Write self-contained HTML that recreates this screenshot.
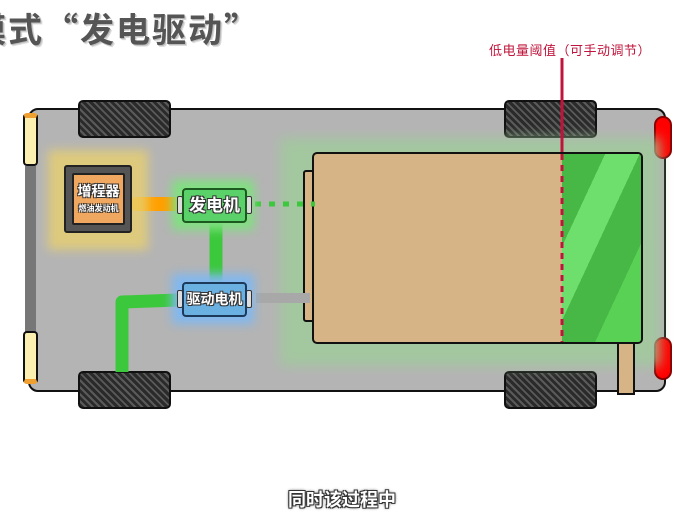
<!DOCTYPE html>
<html><head><meta charset="utf-8"><style>
*{margin:0;padding:0;box-sizing:border-box}
body{width:692px;height:519px;background:#fff;position:relative;overflow:hidden;font-family:"Liberation Sans","Noto Sans CJK SC",sans-serif}
.a{position:absolute}
.wheel{position:absolute;width:93px;height:38px;background:repeating-linear-gradient(45deg,#2a2a2a 0 3px,#5a5a5a 3px 5px);border:2px solid #111;border-radius:5px}
.cap{position:absolute;width:6px;height:18px;background:#ddd;border:1px solid #333;border-radius:2px}
.t{color:#fff;font-weight:bold;text-shadow:-1px -1px 0 #333,1px -1px 0 #333,-1px 1px 0 #333,1px 1px 0 #333;white-space:nowrap}
</style></head><body>
<div class="a" style="left:-28px;top:6px;font-family:'Noto Sans CJK SC',sans-serif;font-size:34px;letter-spacing:2px;line-height:44px;font-weight:bold;color:#555;white-space:nowrap;text-shadow:-1px -1px 0 #fff,1px 1px 0 #bbb,2px 2px 0 #ddd;">模式“发电驱动”</div>
<div class="a" style="left:489px;top:40px;font-size:13px;letter-spacing:0.5px;color:#c0143c;white-space:nowrap">低电量阈值（可手动调节）</div>

<div class="a" style="left:28px;top:108px;width:638px;height:284px;background:#b4b4b4;border:2px solid #111;border-radius:10px"></div>
<div class="a" style="left:25px;top:166px;width:11px;height:166px;background:#777"></div>
<div class="a" style="left:23px;top:113px;width:15px;height:53px;background:#fbf0b0;border:2px solid #111;border-radius:4px;border-top:5px solid #f0a030"></div>
<div class="a" style="left:23px;top:331px;width:15px;height:53px;background:#fbf0b0;border:2px solid #111;border-radius:4px;border-bottom:5px solid #f0a030"></div>
<div class="a" style="left:654px;top:116px;width:18px;height:43px;background:#f00;border:2px solid #800;border-radius:9px"></div>
<div class="a" style="left:654px;top:337px;width:18px;height:43px;background:#f00;border:2px solid #800;border-radius:9px"></div>

<div class="wheel" style="left:78px;top:100px"></div>
<div class="wheel" style="left:78px;top:371px"></div>
<div class="wheel" style="left:504px;top:100px"></div>
<div class="wheel" style="left:504px;top:371px"></div>

<div class="a" style="left:280px;top:138px;width:380px;height:228px;background:#9fcc9a;filter:blur(6px);opacity:.8"></div>
<div class="a" style="left:617px;top:340px;width:18px;height:55px;background:#d6b486;border:2px solid #111"></div>
<div class="a" style="left:303px;top:170px;width:14px;height:152px;background:#d6b486;border:2px solid #111;border-radius:3px"></div>
<div class="a" style="left:312px;top:152px;width:331px;height:192px;background:#d6b486;border:2px solid #111;border-radius:5px;overflow:hidden">
 <div class="a" style="left:248px;top:0;width:83px;height:192px;background:#47b845"></div>
 <div class="a" style="left:248px;top:0;width:83px;height:192px;background:linear-gradient(115deg,transparent 25%,#6ede6c 25% 45%,transparent 45% 70%,#58d154 70%)"></div>
</div>
<svg class="a" style="left:0;top:0" width="692" height="519">
 <line x1="562" y1="58" x2="562" y2="152" stroke="#c0143c" stroke-width="3"/>
 <line x1="562" y1="154" x2="562" y2="342" stroke="#c0143c" stroke-width="3" stroke-dasharray="6,5"/>
 <line x1="256" y1="298" x2="310" y2="298" stroke="#a8a8a8" stroke-width="10"/>
 <line x1="255" y1="204" x2="315" y2="204" stroke="#3cc83c" stroke-width="5" stroke-dasharray="6,8"/>
 <path d="M178 300 L122 302 L122 372" fill="none" stroke="#3cc83c" stroke-width="13" stroke-linejoin="round"/>
 <line x1="216" y1="222" x2="216" y2="284" stroke="#3cc83c" stroke-width="13"/>
 <line x1="137" y1="204" x2="180" y2="204" stroke="#ffa000" stroke-width="14" stroke-linecap="round"/>
</svg>

<div class="a" style="left:48px;top:150px;width:100px;height:100px;background:#e8d070;filter:blur(5px);opacity:.8"></div>
<div class="a" style="left:64px;top:165px;width:68px;height:68px;background:#555;border:2px solid #222;border-radius:3px"></div>
<div class="a" style="left:72px;top:173px;width:53px;height:52px;background:#f0a860;border:2px solid #222;border-radius:2px;text-align:center">
 <div class="t" style="font-size:14px;margin-top:6px">增程器</div>
 <div class="t" style="font-size:8px;margin-top:2px">燃油发动机</div>
</div>

<div class="a" style="left:172px;top:180px;width:82px;height:50px;background:#80e080;filter:blur(5px)"></div>
<div class="cap" style="left:177px;top:196px"></div><div class="cap" style="left:246px;top:196px"></div>
<div class="a t" style="left:182px;top:188px;width:65px;height:35px;background:#5bd16a;border:2px solid #1d5a20;border-radius:4px;font-size:17px;text-align:center;line-height:31px">发电机</div>

<div class="a" style="left:172px;top:274px;width:82px;height:50px;background:#80b8f0;filter:blur(5px)"></div>
<div class="cap" style="left:177px;top:290px"></div><div class="cap" style="left:246px;top:290px"></div>
<div class="a t" style="left:182px;top:282px;width:65px;height:35px;background:#6ab0e0;border:2px solid #1d3a5a;border-radius:4px;font-size:14px;text-align:center;line-height:31px">驱动电机</div>

<div class="a t" style="left:288px;top:486px;font-size:18px;text-shadow:-1px -1px 0 #333,1px -1px 0 #333,-1px 1px 0 #333,1px 1px 0 #333,0 0 3px #000">同时该过程中</div>
</body></html>
